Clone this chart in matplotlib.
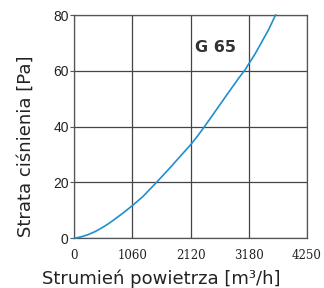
import matplotlib
matplotlib.use("Agg")
import matplotlib.pyplot as plt

flow = [0, 120, 250, 380, 500, 630, 750, 900, 1060, 1250, 1500, 1750, 2000, 2120,
        2250, 2340, 2500, 2750, 3000, 3120, 3180, 3300, 3400, 3550, 3676]
loss = [0, 0.5, 1.3, 2.4, 3.7, 5.3, 7.0, 9.2, 11.7, 14.9, 20.0, 25.3, 30.8, 33.4,
        36.6, 39.0, 43.4, 50.4, 57.3, 60.4, 62.3, 66.0, 69.5, 74.8, 80.0]
xtick_vals = [0, 1062.5, 2125, 3187.5, 4250]
xtick_labels = ["0", "1060", "2120", "3180", "4250"]
ytick_vals = [0, 20, 40, 60, 80]
label_text = "G 65"

fig = plt.figure(figsize=(3.24, 2.88), dpi=100)
ax = fig.add_axes([0.2293, 0.1726, 0.7182, 0.7753])
ax.plot(flow, loss, color="#1f8fd0", lw=1.2, clip_on=False, zorder=3,
        solid_joinstyle="round")
ax.set_xlim(0, 4250)
ax.set_ylim(0, 80)
ax.set_xticks(xtick_vals)
ax.set_xticklabels(xtick_labels, family="DejaVu Serif", fontsize=8.5, color="#222222")
ax.set_yticks(ytick_vals)
ax.set_yticklabels([str(v) for v in ytick_vals], family="Liberation Sans", fontsize=10, color="#222222")
ax.tick_params(axis="x", length=0, pad=8)
ax.tick_params(axis="y", length=3, pad=1, color="#555555")
ax.grid(True, color="#444444", lw=0.9)
for s in ax.spines.values():
    s.set_color("#555555")
    s.set_linewidth(0.9)
ax.set_xlabel("Strumień powietrza [m³/h]", family="DejaVu Sans", fontsize=13,
              color="#222222", va="baseline")
ax.xaxis.set_label_coords(0.372, -0.2047)
ax.set_ylabel("Strata ciśnienia [Pa]", family="DejaVu Sans", fontsize=13,
              color="#222222", va="center")
ax.yaxis.set_label_coords(-0.2076, 0.413)
ax.text(2211, 66.6, label_text, fontsize=11.5, fontweight="bold", family="DejaVu Sans",
        color="#333333", va="baseline", ha="left")
fig.savefig("out.png", dpi=100)
